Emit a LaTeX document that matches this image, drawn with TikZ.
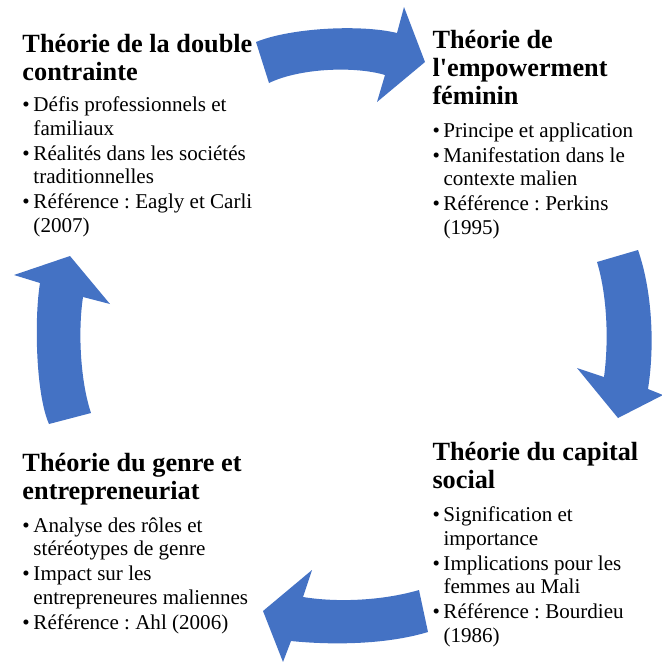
\documentclass[tikz,border=0pt]{standalone}
\usepackage{fontspec}
\setmainfont{Liberation Serif}
\frenchspacing
\definecolor{bleufleche}{HTML}{4472C4}
\newcommand{\puce}{\makebox[8.25pt][l]{\textbullet}}
\newcommand{\suite}{\hspace*{8.25pt}}

\tikzset{every picture/.style={line width=0.75pt}}

\begin{document}
\begin{tikzpicture}[x=0.75pt,y=0.75pt,yscale=-1,xscale=1,
    titre/.style={anchor=base west,inner sep=0pt,align=left,font=\fontsize{19.7}{21}\selectfont\bfseries},
    liste/.style={anchor=base west,inner sep=0pt,align=left,font=\fontsize{15.8}{17.6}\selectfont},
    fleche/.style={fill=bleufleche,draw=none}]
    \useasboundingbox (0,0) rectangle (662,662);
    %Curved Arrow (top, to the right)
    \fill [fleche] (256,42) .. controls (290,28) and (360,24) .. (397,33) -- (404,7) -- (425,62) -- (377,102) -- (385,75) .. controls (355,66) and (300,68) .. (269,83) -- cycle ;
    %Curved Arrow (right, downwards)
    \fill [fleche] (638,250) .. controls (652,290) and (655,345) .. (648,389) -- (663,395) -- (618,418) -- (577,368) -- (604,377) .. controls (609,340) and (607,295) .. (597,262) -- cycle ;
    %Curved Arrow (bottom, to the left)
    \fill [fleche] (428,632) .. controls (385,645) and (330,645) .. (291,641) -- (283,662) -- (263,611) -- (312,570) -- (303,597) .. controls (340,603) and (385,600) .. (419,590) -- cycle ;
    %Curved Arrow (left, upwards)
    \fill [fleche] (49,424) .. controls (36,395) and (34,320) .. (40,283) -- (14,275) -- (70,256) -- (110,304) -- (83,297) .. controls (78,330) and (80,380) .. (91,413) -- cycle ;
    % Text Node (anchored on the baseline of the last line)
    \draw (22,80) node (titre-dc) [titre] {Théorie de la double\\contrainte};
    % Text Node
    \draw (22,232) node (liste-dc) [liste] {\puce Défis professionnels et\\\suite familiaux\\[1.1pt]\puce Réalités dans les sociétés\\\suite traditionnelles\\[1.1pt]\puce Référence : Eagly et Carli\\\suite (2007)};
    % Text Node
    \draw (432,104) node (titre-ef) [titre] {Théorie de\\l\textquotesingle empowerment\\féminin};
    % Text Node
    \draw (432,234) node (liste-ef) [liste] {\puce Principe et application\\[1.1pt]\puce Manifestation dans le\\\suite contexte malien\\[1.1pt]\puce Référence : Perkins\\\suite (1995)};
    % Text Node
    \draw (432,488) node (titre-cs) [titre] {Théorie du capital\\social};
    % Text Node
    \draw (432,642) node (liste-cs) [liste] {\puce Signification et\\\suite importance\\[1.1pt]\puce Implications pour les\\\suite femmes au Mali\\[1.1pt]\puce Référence : Bourdieu\\\suite (1986)};
    % Text Node
    \draw (22,499) node (titre-ge) [titre] {Théorie du genre et\\entrepreneuriat};
    % Text Node
    \draw (22,629) node (liste-ge) [liste] {\puce Analyse des rôles et\\\suite stéréotypes de genre\\[1.1pt]\puce Impact sur les\\\suite entrepreneures maliennes\\[1.1pt]\puce Référence : Ahl (2006)};
\end{tikzpicture}
\end{document}
